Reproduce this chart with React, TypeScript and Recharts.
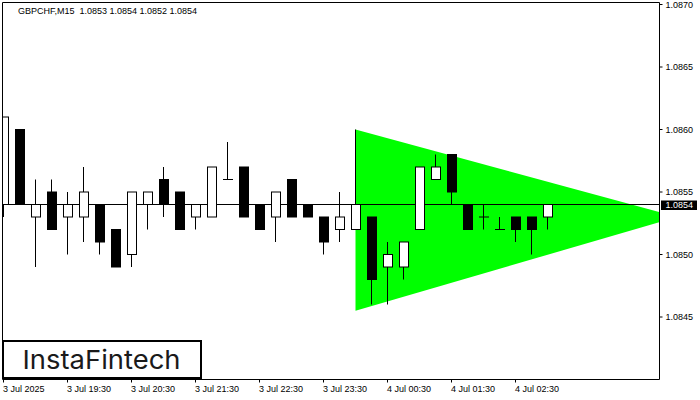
import React from 'react';
import { ComposedChart, Bar, Area, XAxis, YAxis, ReferenceLine } from 'recharts';

// ---- data ----
const candleIndex = [0, 1, 2, 3, 4, 5, 6, 7, 8, 9, 10, 11, 12, 13, 14, 15, 16, 17, 18, 19, 20, 21, 22, 23, 24, 25, 26, 27, 28, 29, 30, 31, 32, 33, 34];
const opens = [1.0854, 1.0860, 1.0853, 1.0855, 1.0853, 1.0853, 1.0854, 1.0852, 1.0850, 1.0854, 1.0856, 1.0855, 1.0853, 1.0853, 1.0856, 1.0857, 1.0854, 1.0853, 1.0856, 1.0854, 1.0853, 1.0852, 1.0852, 1.0853, 1.0849, 1.0849, 1.0852, 1.0856, 1.0858, 1.0854, 1.0853, 1.0852, 1.0853, 1.0853, 1.0853];
const highs = [1.0861, 1.0860, 1.0856, 1.0856, 1.0855, 1.0857, 1.0854, 1.0852, 1.0855, 1.0855, 1.0857, 1.0855, 1.0854, 1.0857, 1.0859, 1.0857, 1.0854, 1.0855, 1.0856, 1.0854, 1.0853, 1.0855, 1.0860, 1.0853, 1.0851, 1.0851, 1.0857, 1.0858, 1.0858, 1.0854, 1.0854, 1.0853, 1.0853, 1.0853, 1.0854];
const lows = [1.0853, 1.0854, 1.0849, 1.0852, 1.0850, 1.0851, 1.0850, 1.0849, 1.0849, 1.0852, 1.0853, 1.0852, 1.0852, 1.0853, 1.0856, 1.0853, 1.0852, 1.0851, 1.0853, 1.0853, 1.0850, 1.0851, 1.0852, 1.0846, 1.0846, 1.0848, 1.0852, 1.0856, 1.0854, 1.0852, 1.0852, 1.0852, 1.0851, 1.0850, 1.0852];
const closes = [1.0861, 1.0854, 1.0854, 1.0852, 1.0854, 1.0855, 1.0851, 1.0849, 1.0855, 1.0855, 1.0854, 1.0852, 1.0854, 1.0857, 1.0856, 1.0853, 1.0852, 1.0855, 1.0853, 1.0853, 1.0851, 1.0853, 1.0854, 1.0848, 1.0850, 1.0851, 1.0857, 1.0857, 1.0855, 1.0852, 1.0853, 1.0852, 1.0852, 1.0852, 1.0854];

const timeTicks = [0, 4, 8, 12, 16, 20, 24, 28, 32];
const timeLabels = ['3 Jul 2025', '3 Jul 19:30', '3 Jul 20:30', '3 Jul 21:30', '3 Jul 22:30', '3 Jul 23:30', '4 Jul 00:30', '4 Jul 01:30', '4 Jul 02:30'];
const priceTicks = [1.0845, 1.085, 1.0855, 1.086, 1.0865, 1.087];

const triangleIndex = [22, 42.1];
const triangleLow = [1.08455, 1.0853];
const triangleHigh = [1.086, 1.0853];

const lastPrice = 1.0854;
const titleText = 'GBPCHF,M15  1.0853 1.0854 1.0852 1.0854';
const logoText = 'InstaFintech';

const X_DOMAIN: [number, number] = [-0.0625, 41];
const Y_DOMAIN: [number, number] = [1.084, 1.087016];

// ---- table for the library ----
type Row = { i: number; o?: number; h?: number; l?: number; c?: number; tri?: [number, number] };
const rows: Row[] = candleIndex.map((i, k) => ({ i, o: opens[k], h: highs[k], l: lows[k], c: closes[k] }));
triangleIndex.forEach((ti, k) => {
  const v: [number, number] = [triangleLow[k], triangleHigh[k]];
  const r = rows.find((row) => row.i === ti);
  if (r) r.tri = v;
  else rows.push({ i: ti, tri: v });
});
rows.sort((a, b) => a.i - b.i);

const FONT = "Tahoma, 'Liberation Sans', Arial, sans-serif";

const Candle = (props: any) => {
  const { x, y, width, height, payload } = props;
  if (!payload || payload.h == null || height == null) return null;
  const { o, h, l, c } = payload;
  const cx = x + width / 2;
  const py = (p: number) => y + ((h - p) / (h - l)) * height;
  const top = py(Math.max(o, c));
  const bot = py(Math.min(o, c));
  return (
    <g>
      <line x1={cx} y1={py(h)} x2={cx} y2={py(l)} stroke="#000" strokeWidth={1} />
      {o === c ? (
        <line x1={cx - 4.5} y1={top} x2={cx + 5.5} y2={top} stroke="#000" strokeWidth={1} />
      ) : c > o ? (
        <rect x={cx - 4} y={top} width={9} height={bot - top} fill="#fff" stroke="#000" strokeWidth={1} />
      ) : (
        <rect x={cx - 4.5} y={top - 0.5} width={10} height={bot - top + 1} fill="#000" />
      )}
    </g>
  );
};

const XTick = (props: any) => {
  const { x, y, payload } = props;
  const k = timeTicks.indexOf(payload.value);
  return (
    <text x={x - 0.5} y={y + 6.8} fontSize={9} fontFamily={FONT} fill="#000" textAnchor="start">
      {timeLabels[k]}
    </text>
  );
};

const YTick = (props: any) => {
  const { x, y, payload } = props;
  return (
    <text x={x} y={y + 3.3} fontSize={9} fontFamily={FONT} fill="#000" textAnchor="start">
      {Number(payload.value).toFixed(4)}
    </text>
  );
};

const PriceLabel = (props: any) => {
  const vb = props.viewBox || {};
  const bx = vb.x + vb.width + 1.5;
  const by = vb.y;
  return (
    <g>
      <rect x={bx} y={by - 4} width={36} height={9.5} fill="#000" />
      <text x={bx + 4.5} y={by + 3.6} fontSize={9} fontFamily={FONT} fill="#fff" textAnchor="start">
        {lastPrice.toFixed(4)}
      </text>
    </g>
  );
};

export default function App() {
  return (
    <div style={{ position: 'absolute', left: 0, top: 0, width: 700, height: 400, background: '#fff' }}>
      <ComposedChart
        width={700}
        height={400}
        data={rows}
        margin={{ top: 2.5, right: 0, bottom: 0, left: 2.5 }}
      >
        <XAxis
          dataKey="i"
          type="number"
          domain={X_DOMAIN}
          allowDataOverflow
          ticks={timeTicks}
          interval={0}
          height={20.5}
          tickSize={3}
          tickMargin={3}
          axisLine={{ stroke: '#000' }}
          tickLine={{ stroke: '#000' }}
          tick={<XTick />}
        />
        <YAxis
          orientation="right"
          type="number"
          domain={Y_DOMAIN}
          allowDataOverflow
          ticks={priceTicks}
          interval={0}
          width={40.5}
          tickSize={3}
          tickMargin={3}
          axisLine={{ stroke: '#000' }}
          tickLine={{ stroke: '#000' }}
          tick={<YTick />}
        />
        <Area
          dataKey="tri"
          type="linear"
          connectNulls
          fill="#00ff00"
          fillOpacity={1}
          stroke="none"
          isAnimationActive={false}
          dot={false}
          activeDot={false}
        />
        <ReferenceLine x={X_DOMAIN[0]} stroke="#000" strokeWidth={1} ifOverflow="visible" />
        <ReferenceLine y={Y_DOMAIN[1]} stroke="#000" strokeWidth={1} ifOverflow="visible" />
        <ReferenceLine
          y={lastPrice}
          stroke="#000"
          strokeWidth={1}
          ifOverflow="visible"
          label={(p: any) => <PriceLabel {...p} />}
          {...({ zIndex: 200 } as any)}
        />
        <Bar
          dataKey={(d: Row) => (d.h != null && d.l != null ? [d.l, d.h] : null)}
          barSize={10}
          shape={<Candle />}
          isAnimationActive={false}
        />
      </ComposedChart>
      <svg
        width={700}
        height={400}
        style={{ position: 'absolute', left: 0, top: 0, pointerEvents: 'none' }}
      >
        <text x={18} y={14} fontSize={9} fontFamily={FONT} fill="#000" style={{ whiteSpace: 'pre' }} xmlSpace="preserve">
          {titleText}
        </text>
        <rect x={3} y={341} width={198} height={37} fill="#fff" stroke="#000" strokeWidth={2} />
        <text
          x={22.5}
          y={368.5}
          fontSize={26}
          fontFamily="Inter, 'Noto Sans', sans-serif"
          fontWeight={400}
          fill="#1a1a1a"
          textLength={158}
          lengthAdjust="spacingAndGlyphs"
        >
          {logoText}
        </text>
      </svg>
    </div>
  );
}
